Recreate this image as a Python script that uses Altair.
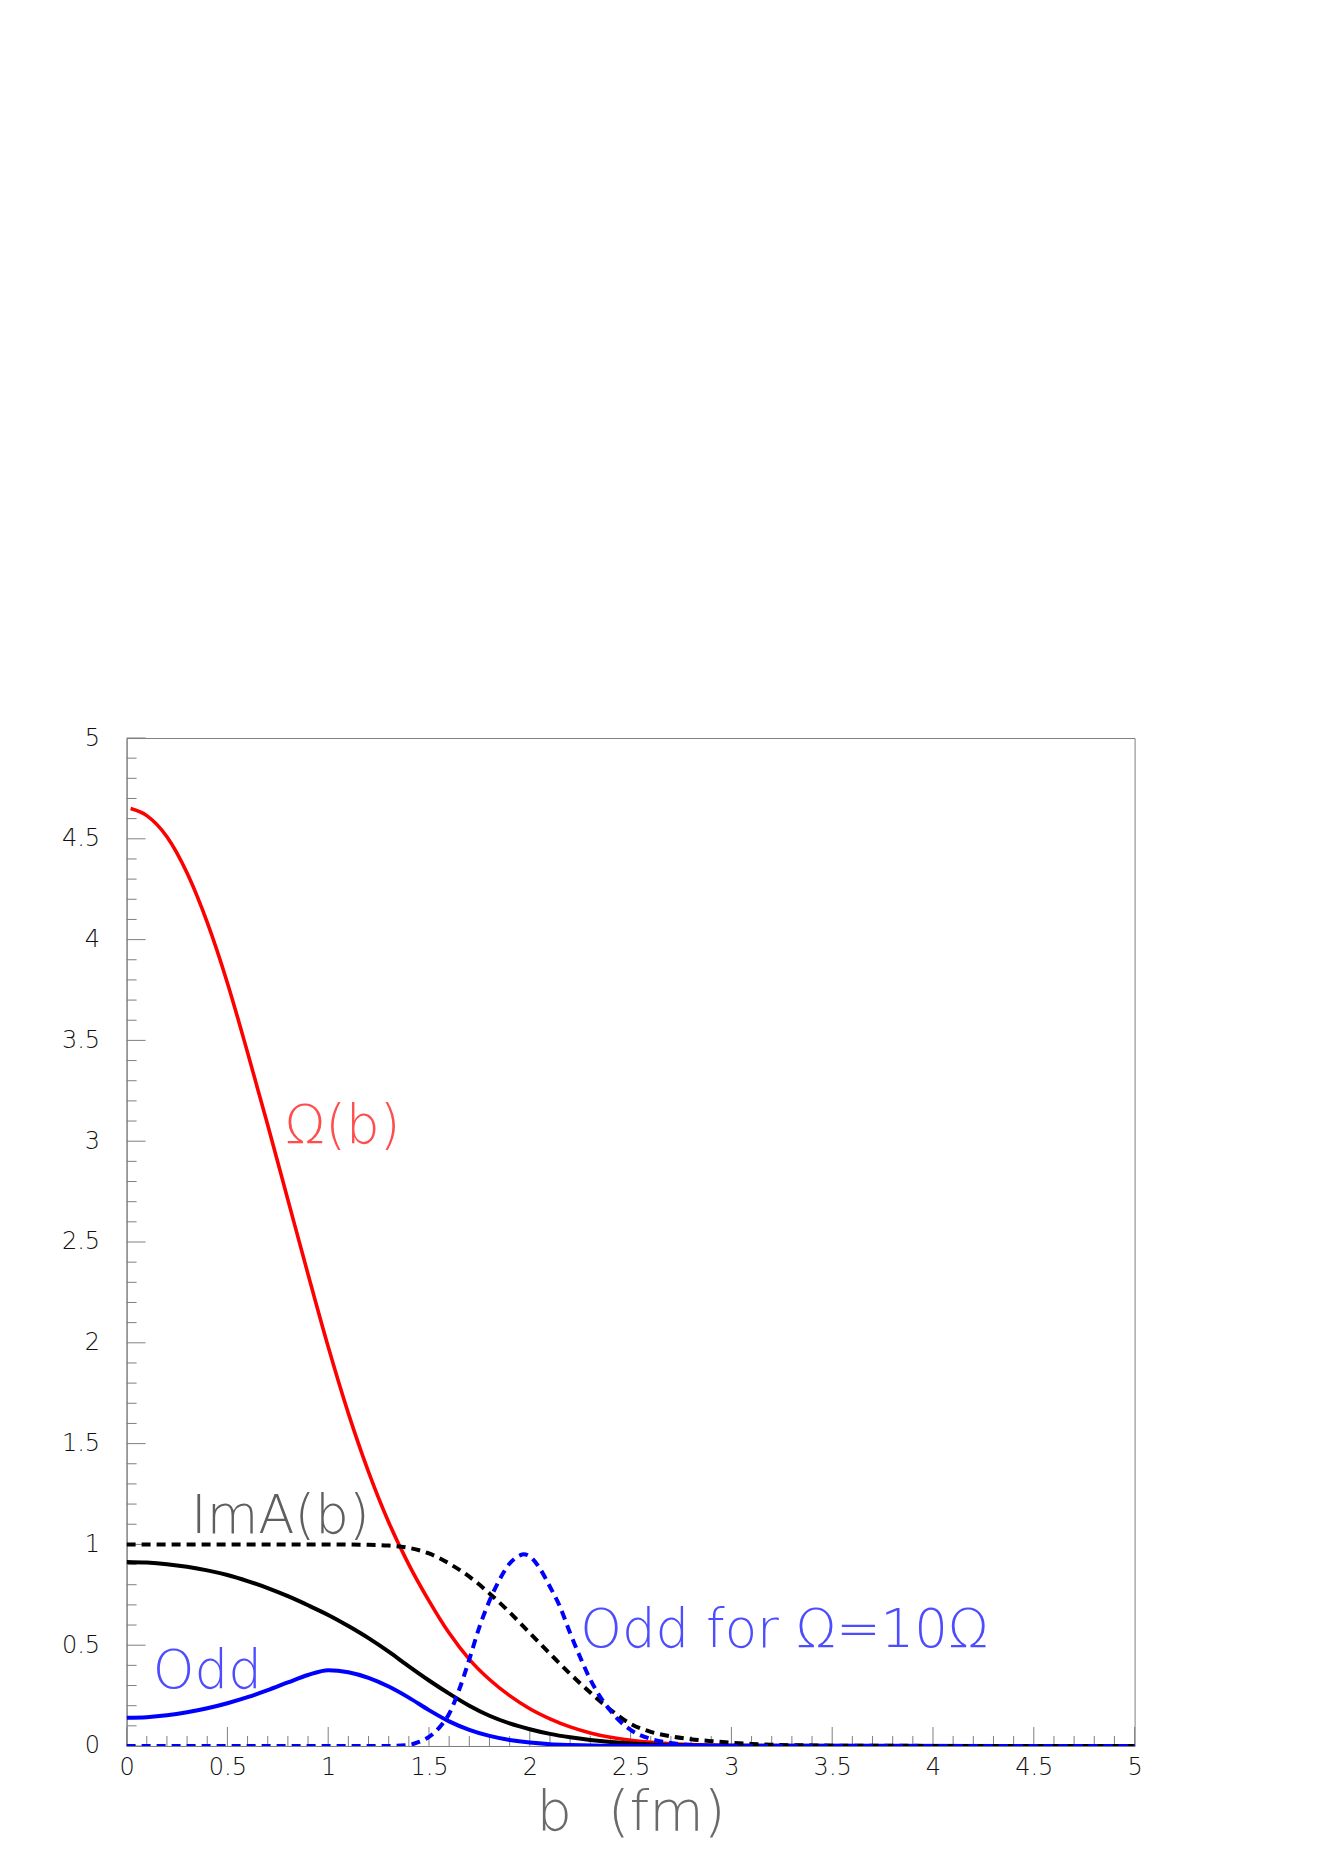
import altair as alt
import pandas as pd

# ---- data ----
omega_b = [0.02, 0.1, 0.2, 0.3, 0.4, 0.5, 0.6, 0.7, 0.8, 0.9, 1.0, 1.1, 1.2, 1.3, 1.4, 1.5,
           1.6, 1.7, 1.8, 1.9, 2.0, 2.1, 2.2, 2.3, 2.4, 2.5, 2.6, 2.7, 2.8, 3.0, 3.5, 5.0]
omega_v = [4.65, 4.615, 4.51, 4.33, 4.085, 3.785, 3.44, 3.08, 2.71, 2.34, 1.98, 1.65, 1.36, 1.11, 0.90, 0.72,
           0.56, 0.43, 0.33, 0.25, 0.185, 0.135, 0.095, 0.065, 0.043, 0.028, 0.018, 0.011, 0.007, 0.002, 0.0, 0.0]

ima_b = [0.0, 0.1, 0.2, 0.3, 0.4, 0.5, 0.6, 0.7, 0.8, 0.9, 1.0, 1.1, 1.2, 1.3, 1.4, 1.5,
         1.6, 1.7, 1.8, 1.9, 2.0, 2.1, 2.2, 2.3, 2.4, 2.5, 2.6, 2.8, 3.0, 5.0]
ima_v = [0.913, 0.910, 0.902, 0.889, 0.871, 0.848, 0.818, 0.783, 0.743, 0.698, 0.650, 0.595, 0.535, 0.468, 0.395, 0.325,
         0.260, 0.200, 0.150, 0.112, 0.083, 0.060, 0.043, 0.030, 0.020, 0.013, 0.008, 0.003, 0.001, 0.0]

ima10_b = [0.0, 0.5, 1.0, 1.2, 1.3, 1.4, 1.5, 1.6, 1.7, 1.8, 1.9, 2.0, 2.1, 2.2, 2.3, 2.4,
           2.5, 2.6, 2.7, 2.8, 2.9, 3.0, 3.1, 3.2, 3.4, 3.6, 5.0]
ima10_v = [1.0, 1.0, 1.0, 0.998, 0.994, 0.983, 0.955, 0.905, 0.84, 0.757, 0.663, 0.56, 0.458, 0.358, 0.265, 0.18,
           0.11, 0.07, 0.048, 0.034, 0.024, 0.016, 0.01, 0.006, 0.003, 0.001, 0.0]

odd_b = [0.0, 0.1, 0.2, 0.3, 0.4, 0.5, 0.6, 0.7, 0.8, 0.9, 1.0, 1.1, 1.2, 1.3, 1.4, 1.5,
         1.6, 1.7, 1.8, 1.9, 2.0, 2.1, 2.2, 2.4, 5.0]
odd_v = [0.14, 0.143, 0.152, 0.167, 0.187, 0.212, 0.242, 0.277, 0.315, 0.352, 0.376, 0.366, 0.338, 0.295, 0.240, 0.178,
         0.122, 0.080, 0.050, 0.030, 0.017, 0.009, 0.005, 0.001, 0.0]

odd10_b = [0.0, 1.3, 1.4, 1.45, 1.5, 1.55, 1.6, 1.65, 1.7, 1.75, 1.8, 1.85, 1.9, 1.95, 1.97, 2.0,
           2.05, 2.1, 2.15, 2.2, 2.25, 2.3, 2.35, 2.4, 2.45, 2.5, 2.6, 2.7, 2.8, 3.0, 5.0]
odd10_v = [0.0, 0.0, 0.005, 0.02, 0.045, 0.09, 0.16, 0.28, 0.43, 0.59, 0.72, 0.825, 0.905, 0.945, 0.951, 0.94,
           0.88, 0.79, 0.69, 0.56, 0.44, 0.33, 0.243, 0.175, 0.12, 0.08, 0.035, 0.015, 0.005, 0.0, 0.0]

major_ticks = [0, 0.5, 1, 1.5, 2, 2.5, 3, 3.5, 4, 4.5, 5]
minor_ticks = [round(i * 0.1, 1) for i in range(51) if i % 5 != 0]

label_text = ["\u03a9(b)", "ImA(b)", "Odd", "Odd for \u03a9=10\u03a9"]
label_b = [0.785, 0.32, 0.13, 2.25]
label_v = [2.99, 1.055, 0.29, 0.49]
label_color = ["#ff4d4d", "#5f5f5f", "#4d4dff", "#4d4dff"]

x_title = "b\u00a0\u00a0(fm)"

# ---- chart ----
W = 1008
H = 1008
AX = "#808080"
FONT = "DejaVu Sans"

xs = alt.Scale(domain=[0, 5], nice=False, zero=False)
ys = alt.Scale(domain=[0, 5], nice=False, zero=False)

x_axis = alt.Axis(values=major_ticks, format="~g", title=x_title, ticks=False,
                  labelPadding=10, labelFontSize=24, labelFont=FONT, labelFontWeight=300,
                  labelColor="#111111", labelFlush=False, labelOverlap=False,
                  titleFont=FONT, titleFontSize=56, titleFontWeight=200,
                  titleColor="#6a6a6a", titlePadding=6, grid=False,
                  domainColor=AX, domainWidth=1)
y_axis = alt.Axis(values=major_ticks, format="~g", title="", ticks=False,
                  labelPadding=27, labelFontSize=24, labelFont=FONT, labelFontWeight=300,
                  labelColor="#111111", labelFlush=False, labelOverlap=False, grid=False,
                  domainColor=AX, domainWidth=1)

X = alt.X("b:Q", scale=xs, axis=x_axis)
Y = alt.Y("v:Q", scale=ys, axis=y_axis)


def curve(bs, vs, color, dash=None, width=4):
    df = pd.DataFrame({"b": bs, "v": vs})
    kw = dict(color=color, strokeWidth=width, interpolate="monotone", clip=True)
    if dash:
        kw["strokeDash"] = dash
    return alt.Chart(df).mark_line(**kw).encode(x=X, y=Y)


red = curve(omega_b, omega_v, "#ff0000", width=3.6)
black = curve(ima_b, ima_v, "#000000")
blue = curve(odd_b, odd_v, "#0000ff")
black_d = curve(ima10_b, ima10_v, "#000000", dash=[9, 6])
blue_d = curve(odd10_b, odd10_v, "#0000ff", dash=[9, 6])

# inward ticks (ROOT style)
ymaj = alt.Chart(pd.DataFrame({"v": major_ticks})).mark_rule(color=AX, strokeWidth=1).encode(
    y=Y, x=alt.value(0), x2=alt.value(19))
ymin = alt.Chart(pd.DataFrame({"v": minor_ticks})).mark_rule(color=AX, strokeWidth=1).encode(
    y=Y, x=alt.value(0), x2=alt.value(10))
xmaj = alt.Chart(pd.DataFrame({"b": major_ticks})).mark_rule(color=AX, strokeWidth=1).encode(
    x=X, y=alt.value(H), y2=alt.value(H - 19))
xmin = alt.Chart(pd.DataFrame({"b": minor_ticks})).mark_rule(color=AX, strokeWidth=1).encode(
    x=X, y=alt.value(H), y2=alt.value(H - 10))

labels_df = pd.DataFrame({"b": label_b, "v": label_v, "t": label_text, "c": label_color})
labels = alt.Chart(labels_df).mark_text(
    align="left", baseline="alphabetic", fontSize=53, font=FONT, fontWeight=200
).encode(x=X, y=Y, text="t:N", color=alt.Color("c:N", scale=None))

chart = alt.layer(
    ymin, ymaj, xmin, xmaj, red, black, blue, black_d, blue_d, labels
).properties(
    width=W, height=H,
    autosize=alt.AutoSizeParams(type="none"),
    padding={"left": 118.6, "top": 730, "right": 180, "bottom": 120},
    background="white",
).configure_view(stroke=AX, strokeWidth=1)

chart.save("out.html", embed_options={"renderer": "svg", "actions": False})
